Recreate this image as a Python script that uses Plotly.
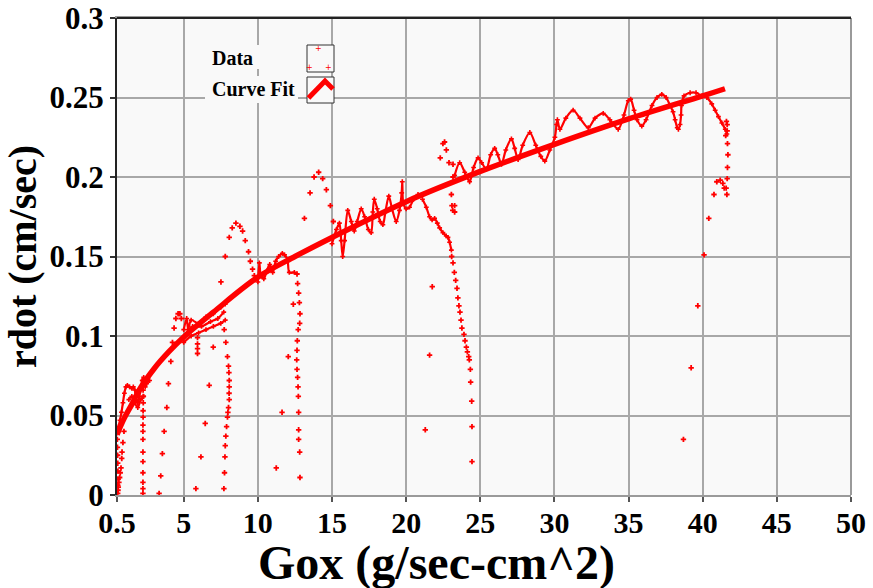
import plotly.graph_objects as go

# ---------------- data ----------------
# Curve fit (power-law fit read at several Gox values)
fit_x = [0.5, 1.0, 1.5, 2.0, 3.0, 4.0, 5.0, 7.0, 10.0, 12.5, 15.0, 20.0, 25.0, 30.0, 35.0, 40.0, 41.5]
fit_y = [0.038, 0.0485, 0.057, 0.0661, 0.0794, 0.0901, 0.0994, 0.115, 0.137, 0.150, 0.162, 0.1845, 0.2035, 0.2205, 0.2365, 0.2510, 0.2555]

# Dense oscillating data runs (None = break between runs)
dense_x = [0.5, 0.6, 0.7, 0.8, 0.9, 1.0, 1.1, 1.2, 1.35, 1.5, 1.6, 1.7, 1.8, 1.9, 2.0, 2.1, 2.2, 2.3, 2.4, 2.5, 2.7, None,
           1.3, 1.5, 1.7, 1.9, 2.1, 2.3, None,
           5.0, 5.2, 5.3, 5.5, 6.0, 6.5, 7.0, 7.5, 7.8, None,
           5.0, 5.5, 6.0, 6.5, 7.0, 7.5, 7.8, None,
           5.1, 5.6, 6.2, 6.8, 7.3, 7.7, None,
           10.0, 10.1, 10.2, 10.4, 10.6, 10.8, 11.0, 11.2, 11.4, 11.65, 11.8, 12.0, 12.12, 12.46, None,
           15.0, 15.3, 15.5, 15.62, 15.72, 15.85, 16.06, 16.3, 16.5, 16.7, 16.97, 17.2, 17.45, 17.64, 17.75, 17.85,
           18.05, 18.25, 18.43, 18.6, 18.83, 19.05, 19.33, 19.55, 19.7, 19.74, 19.8, 20.0, 20.23, 20.5, 20.8, None,
           21.1, 21.36, 21.58, 21.75, 21.92, 22.1, 22.26, 22.48, 22.7, 22.82, 22.93, 23.05, None,
           23.27, 23.61, 23.95, 24.28, 24.55, 24.85, 25.09, 25.41, 25.70, 25.97, 26.18, 26.43, 26.72, 27.10,
           27.32, 27.55, 27.86, 28.34, 28.74, 29.08, 29.35, 29.69, 30.03, 30.14, 30.2, 30.37, 30.77, 31.26,
           31.72, 32.28, 32.74, 33.29, 33.74, 34.30, 34.69, 34.98, 35.14, 35.37, 35.57, 35.89, 36.18, 36.58,
           36.92, 37.24, 37.53, 37.80, 38.00, 38.14, 38.28, 38.36, 38.47, 38.54, 38.57, 38.74, 39.15, 39.55,
           39.95, 40.28, 40.61, 40.84, 41.06, 41.29, 41.52, 41.63]
dense_y = [0.039, 0.043, 0.047, 0.052, 0.058, 0.064, 0.068, 0.069, 0.068, 0.067, 0.068, 0.066, 0.060, 0.058, 0.062, 0.066, 0.072, 0.074, 0.068, 0.070, 0.072, None,
           0.060, 0.062, 0.058, 0.055, 0.060, 0.062, None,
           0.104, 0.111, 0.104, 0.110, 0.108, 0.112, 0.114, 0.118, 0.120, None,
           0.096, 0.100, 0.102, 0.104, 0.106, 0.108, 0.110, None,
           0.100, 0.106, 0.106, 0.109, 0.111, 0.115, None,
           0.134, 0.146, 0.138, 0.136, 0.141, 0.145, 0.140, 0.147, 0.150, 0.152, 0.151, 0.148, 0.140, 0.140, None,
           0.158, 0.167, 0.171, 0.160, 0.150, 0.160, 0.179, 0.172, 0.166, 0.172, 0.180, 0.175, 0.167, 0.165, 0.178, 0.186,
           0.180, 0.172, 0.170, 0.178, 0.188, 0.180, 0.172, 0.179, 0.190, 0.197, 0.184, 0.180, 0.181, 0.186, 0.189, None,
           0.186, 0.181, 0.175, 0.173, 0.174, 0.171, 0.168, 0.165, 0.163, 0.162, 0.159, 0.154, None,
           0.201, 0.209, 0.203, 0.197, 0.206, 0.212, 0.209, 0.205, 0.214, 0.218, 0.214, 0.208, 0.217, 0.224,
           0.218, 0.211, 0.220, 0.228, 0.220, 0.213, 0.210, 0.217, 0.225, 0.233, 0.236, 0.230, 0.237, 0.242,
           0.237, 0.231, 0.237, 0.240, 0.236, 0.230, 0.239, 0.248, 0.249, 0.242, 0.236, 0.232, 0.236, 0.245,
           0.250, 0.252, 0.250, 0.245, 0.241, 0.236, 0.231, 0.230, 0.233, 0.239, 0.245, 0.251, 0.253, 0.253,
           0.251, 0.250, 0.246, 0.242, 0.238, 0.234, 0.230, 0.227]

# Sparse data points (drop-out trails and isolated points)
sparse_x = [0.97, 0.90, 0.84, 0.82, 0.77, 0.72, 0.68, 0.63, 0.59, 0.57, 0.55,
            0.52, 0.53, 0.54, 0.55, 0.56, 0.57, 0.56,
            2.26, 2.26, 2.27, 2.27, 2.26, 2.26, 2.25, 2.25, 2.25, 2.25, 2.25, 2.25, 2.25, 2.25, 2.25,
            3.34, 3.45, 3.56, 3.68, 3.86, 3.97, 4.13, 4.24, 4.35, 4.47, 4.62, 4.74, 4.84,
            5.93, 5.93, 5.93, 5.93,
            7.73, 7.84, 7.95, 8.02, 8.05, 8.07, 8.07, 8.06, 8.07, 8.02, 7.98, 7.95, 7.89, 7.84, 7.80, 7.78, 7.75, 7.71,
            5.82, 6.16, 6.45, 6.72, 6.99,
            7.51, 7.80, 8.07, 8.27, 8.52, 8.79, 8.97, 9.15, 9.37, 9.49, 9.64, 9.76,
            12.64, 12.68, 12.75, 12.80, 12.84, 12.82, 12.72, 12.66, 12.64, 12.62, 12.64, 12.68, 12.71, 12.73,
            12.75, 12.75, 12.75, 12.82, 12.84,
            12.39, 12.05, 11.63, 11.24,
            13.14, 13.52, 13.79, 14.10, 14.37, 14.62, 14.89, 15.09,
            23.07, 23.16, 23.25, 23.34, 23.43, 23.49, 23.56, 23.63, 23.70, 23.76, 23.90, 23.97, 24.06, 24.13,
            24.22, 24.26, 24.33, 24.35, 24.42, 24.44, 24.44,
            21.76, 21.58, 21.29,
            22.30, 22.48, 22.59, 22.71, 22.89,
            23.05, 23.09, 23.14, 23.16, 23.16, 23.27, 23.27,
            41.65, 41.65, 41.67, 41.70, 41.67, 41.65, 41.58, 41.45, 41.63, 41.55, 41.60,
            40.95, 41.18, 41.36, 40.76, 40.41, 40.09, 39.67, 39.22, 38.70]
sparse_y = [0.040, 0.033, 0.027, 0.023, 0.017, 0.014, 0.011, 0.008, 0.005, 0.003, 0.001,
            0.035, 0.030, 0.025, 0.020, 0.015, 0.010, 0.006,
            0.072, 0.066, 0.062, 0.058, 0.053, 0.049, 0.044, 0.040, 0.035, 0.027, 0.021, 0.014, 0.008, 0.004, 0.001,
            0.001, 0.012, 0.026, 0.040, 0.055, 0.070, 0.084, 0.096, 0.105, 0.111, 0.114, 0.114, 0.111,
            0.099, 0.095, 0.092, 0.089,
            0.104, 0.096, 0.087, 0.081, 0.077, 0.072, 0.068, 0.064, 0.060, 0.055, 0.052, 0.049, 0.043, 0.037, 0.031, 0.024, 0.014, 0.004,
            0.004, 0.024, 0.045, 0.069, 0.093,
            0.134, 0.150, 0.162, 0.168, 0.171, 0.169, 0.166, 0.160, 0.153, 0.147, 0.142, 0.138,
            0.139, 0.133, 0.127, 0.121, 0.114, 0.108, 0.104, 0.097, 0.091, 0.085, 0.079, 0.074, 0.068, 0.062,
            0.052, 0.041, 0.035, 0.027, 0.011,
            0.120, 0.087, 0.052, 0.017,
            0.174, 0.190, 0.200, 0.203, 0.199, 0.192, 0.182, 0.172,
            0.150, 0.146, 0.140, 0.135, 0.130, 0.124, 0.119, 0.115, 0.110, 0.105, 0.101, 0.097, 0.093, 0.090,
            0.087, 0.085, 0.079, 0.071, 0.059, 0.043, 0.021,
            0.131, 0.088, 0.041,
            0.212, 0.221, 0.222, 0.217, 0.209,
            0.189, 0.182, 0.179, 0.200, 0.208, 0.178, 0.182,
            0.233, 0.229, 0.221, 0.214, 0.206, 0.199, 0.193, 0.193, 0.189, 0.226, 0.235,
            0.197, 0.198, 0.196, 0.189, 0.174, 0.151, 0.119, 0.080, 0.035]

x_tick_vals = [0.5, 5, 10, 15, 20, 25, 30, 35, 40, 45, 50]
x_tick_text = ["0.5", "5", "10", "15", "20", "25", "30", "35", "40", "45", "50"]
y_tick_vals = [0, 0.05, 0.1, 0.15, 0.2, 0.25, 0.3]
y_tick_text = ["0", "0.05", "0.1", "0.15", "0.2", "0.25", "0.3"]
x_title = "Gox (g/sec-cm^2)"
y_title = "rdot (cm/sec)"

# ---------------- styling ----------------
RED = "#ff0000"
PLOT_BG = "#f9f9f9"
GRID = "#a8a8a8"
FONT = "Liberation Serif"
W, H = 873, 588
ML, MR, MT, MB = 117, 22, 18, 93
PW, PH = W - ML - MR, H - MT - MB


def px(p):
    return (p - ML) / PW


def py(p):
    return (H - MB - p) / PH


fig = go.Figure()
fig.add_trace(go.Scatter(x=fit_x, y=fit_y, mode="lines", name="Curve Fit",
                         line=dict(color=RED, width=5.5, shape="spline"), showlegend=False))
fig.add_trace(go.Scatter(x=dense_x, y=dense_y, mode="lines+markers", name="Data",
                         line=dict(color=RED, width=2.2, shape="spline", smoothing=0.8), connectgaps=False,
                         marker=dict(symbol="cross", size=4, color=RED), showlegend=False))
fig.add_trace(go.Scatter(x=sparse_x, y=sparse_y, mode="markers", name="Data",
                         marker=dict(symbol="cross", size=4.5, color=RED), showlegend=False))

shapes = [
    # right and top border lines
    dict(type="line", xref="paper", yref="paper", x0=1, x1=1, y0=0, y1=1, line=dict(color="#9a9a9a", width=2)),
    dict(type="line", xref="paper", yref="paper", x0=0, x1=1, y0=1, y1=1, line=dict(color="#222", width=2)),
    # legend backgrounds
    dict(type="rect", xref="paper", yref="paper", x0=px(205), x1=px(298), y0=py(69), y1=py(45),
         fillcolor=PLOT_BG, line=dict(width=0)),
    dict(type="rect", xref="paper", yref="paper", x0=px(205), x1=px(298), y0=py(103), y1=py(76),
         fillcolor=PLOT_BG, line=dict(width=0)),
    # legend boxes
    dict(type="rect", xref="paper", yref="paper", x0=px(307), x1=px(334), y0=py(72), y1=py(45),
         fillcolor=PLOT_BG, line=dict(color="#333", width=1)),
    dict(type="rect", xref="paper", yref="paper", x0=px(307), x1=px(334), y0=py(103), y1=py(77),
         fillcolor=PLOT_BG, line=dict(color="#333", width=1)),
    dict(type="path", xref="paper", yref="paper",
         path=f"M {px(308.5)} {py(98)} L {px(325)} {py(81)} L {px(333)} {py(89)}",
         line=dict(color=RED, width=5)),
]

annotations = [
    dict(xref="paper", yref="paper", x=px(210), y=py(58), text="Data", showarrow=False,
         xanchor="left", yanchor="middle", font=dict(family=FONT, size=20, color="black", weight="bold")),
    dict(xref="paper", yref="paper", x=px(210), y=py(89), text="Curve Fit", showarrow=False,
         xanchor="left", yanchor="middle", font=dict(family=FONT, size=20, color="black", weight="bold")),
    # x-axis title (sits left of the plot centre in the reference)
    dict(xref="paper", yref="paper", x=px(436), y=py(563), text=x_title, showarrow=False,
         xanchor="center", yanchor="middle", font=dict(family=FONT, size=48, color="black", weight="bold")),
]
for cx, cy in [(318.5, 48.5), (309.5, 67.5), (328.5, 67.5)]:
    annotations.append(dict(xref="paper", yref="paper", x=px(cx), y=py(cy), text="+", showarrow=False,
                            xanchor="center", yanchor="middle",
                            font=dict(family="DejaVu Sans", size=8, color=RED)))

fig.update_layout(
    width=W, height=H,
    margin=dict(l=ML, r=MR, t=MT, b=MB, pad=0),
    paper_bgcolor="white", plot_bgcolor=PLOT_BG,
    showlegend=False,
    shapes=shapes, annotations=annotations,
    xaxis=dict(range=[0.5, 50], tickvals=x_tick_vals, ticktext=x_tick_text, automargin=False,
               showgrid=True, gridcolor=GRID, gridwidth=1.5, zeroline=False,
               showline=True, linecolor="#9a9a9a", linewidth=2, mirror=True,
               ticks="outside", ticklen=5, tickcolor="#555", tickwidth=1.5, ticklabelstandoff=-5,
               tickfont=dict(family=FONT, size=30, color="black", weight="bold")),
    yaxis=dict(range=[0, 0.3], tickvals=y_tick_vals, ticktext=y_tick_text, automargin=False,
               showgrid=True, gridcolor=GRID, gridwidth=1.5, zeroline=False,
               showline=True, linecolor="#222", linewidth=2, mirror=False,
               ticks="outside", ticklen=5, tickcolor="#333", tickwidth=1.5,
               tickfont=dict(family=FONT, size=31, color="black", weight="bold"),
               title=dict(text=y_title, standoff=6,
                          font=dict(family=FONT, size=40, color="black", weight="bold"))),
)

fig.write_html("out.html")
